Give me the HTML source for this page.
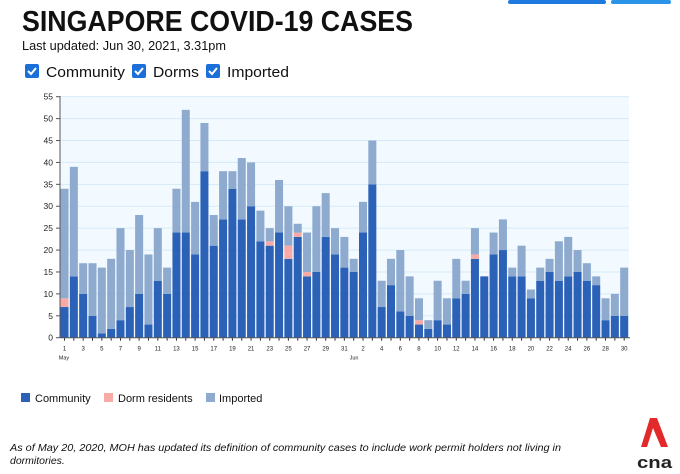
<!DOCTYPE html>
<html><head><meta charset="utf-8"><style>
html,body{margin:0;padding:0;background:#fff;}
svg{display:block;font-family:"Liberation Sans",sans-serif;}
</style></head><body>
<svg id="s" width="680" height="474" viewBox="0 0 680 474" xmlns="http://www.w3.org/2000/svg">
<rect x="508" y="0" width="98" height="4" rx="2" fill="#1f7ae0"/>
<rect x="611" y="0" width="60" height="4" rx="2" fill="#2b93e8"/>
<text x="22" y="31" font-size="29" font-weight="bold" textLength="391" lengthAdjust="spacingAndGlyphs" fill="#111">SINGAPORE COVID-19 CASES</text>
<text x="22" y="50" font-size="12.5" textLength="204" lengthAdjust="spacingAndGlyphs" fill="#111">Last updated: Jun 30, 2021, 3.31pm</text>
<g font-size="15" fill="#111">
<rect x="25" y="64" width="14" height="14" rx="2" fill="#1a6fd8"/><path d="M28 71 l3 3 l5 -6" stroke="#fff" stroke-width="2" fill="none"/>
<text x="46" y="77" textLength="79" lengthAdjust="spacingAndGlyphs">Community</text>
<rect x="132" y="64" width="14" height="14" rx="2" fill="#1a6fd8"/><path d="M135 71 l3 3 l5 -6" stroke="#fff" stroke-width="2" fill="none"/>
<text x="153" y="77" textLength="46" lengthAdjust="spacingAndGlyphs">Dorms</text>
<rect x="206" y="64" width="14" height="14" rx="2" fill="#1a6fd8"/><path d="M209 71 l3 3 l5 -6" stroke="#fff" stroke-width="2" fill="none"/>
<text x="227" y="77" textLength="62" lengthAdjust="spacingAndGlyphs">Imported</text>
</g>
<rect x="60" y="96" width="569" height="242" fill="#f3faff"/>
<g id="grid"></g><g id="bars"></g><g id="axis"></g>
<g font-size="11" fill="#111">
<rect x="21" y="393" width="9" height="9" fill="#2b62b8"/><text x="35" y="402">Community</text>
<rect x="104" y="393" width="9" height="9" fill="#f7aaa6"/><text x="118" y="402">Dorm residents</text>
<rect x="206" y="393" width="9" height="9" fill="#8eabcf"/><text x="219" y="402">Imported</text>
</g>
<g font-size="10.5" font-style="italic" fill="#111">
<text x="10" y="451" textLength="551" lengthAdjust="spacingAndGlyphs">As of May 20, 2020, MOH has updated its definition of community cases to include work permit holders not living in</text>
<text x="10" y="464">dormitories.</text>
</g>
<path d="M650 418 L641 447 L647 447 L653 428 L661 447 L668 447 L657 418 Z" fill="#e22a2a"/>
<text x="637" y="468" font-size="17" font-weight="bold" textLength="35" lengthAdjust="spacingAndGlyphs" fill="#222">cna</text>
</svg>
<script>
var d=[[7,2,34],[14,0,39],[10,0,17],[5,0,17],[1,0,16],[2,0,18],[4,0,25],[7,0,20],[10,0,28],[3,0,19],[13,0,25],[10,0,16],[24,0,34],[24,0,52],[19,0,31],[38,0,49],[21,0,28],[27,0,38],[34,0,38],[27,0,41],[30,0,40],[22,0,29],[21,1,25],[24,0,36],[18,3,30],[23,1,26],[14,1,24],[15,0,30],[23,0,33],[19,0,25],[16,0,23],
[15,0,18],[24,0,31],[35,0,45],[7,0,13],[12,0,18],[6,0,20],[5,0,14],[3,1,9],[2,0,4],[4,0,13],[3,0,9],[9,0,18],[10,0,13],[18,1,25],[14,0,14],[19,0,24],[20,0,27],[14,0,16],[14,0,21],[9,0,11],[13,0,16],[15,0,18],[13,0,22],[14,0,23],[15,0,20],[13,0,17],[12,0,14],[4,0,9],[5,0,10],[5,0,16]];
var NS="http://www.w3.org/2000/svg",y0=337.7,k=241/55,x0=60,w=569/61;
function el(p,t,a,txt){var e=document.createElementNS(NS,t);for(var i in a)e.setAttribute(i,a[i]);if(txt!=null)e.textContent=txt;document.getElementById(p).appendChild(e);}
for(var v=5;v<=55;v+=5)el('grid','line',{x1:60,x2:629,y1:y0-v*k,y2:y0-v*k,stroke:'#d3e9f7','stroke-width':1});
d.forEach(function(r,i){var x=x0+i*w+0.5,bw=w-1.3;
 function seg(a,b,c){if(b>a)el('bars','rect',{x:x,y:y0-b*k,width:bw,height:(b-a)*k,fill:c});}
 seg(0,r[0],'#2b62b8');seg(r[0],r[0]+r[1],'#f7aaa6');seg(r[0]+r[1],r[2],'#8eabcf');
 var lbl=i<31?(i%2==0?String(i+1):null):((i-30)%2==0?String(i-30):null);
 el('axis','line',{x1:x+bw/2,x2:x+bw/2,y1:y0,y2:y0+3,stroke:'#333'});
 if(lbl)el('axis','text',{x:x+bw/2,y:y0+13,'font-size':6,'text-anchor':'middle',fill:'#222'},lbl);
});
el('axis','text',{x:64,y:y0+22,'font-size':5.5,'text-anchor':'middle',fill:'#222'},'May');
el('axis','text',{x:354,y:y0+22,'font-size':5.5,'text-anchor':'middle',fill:'#222'},'Jun');
el('axis','line',{x1:60,x2:630,y1:y0,y2:y0,stroke:'#555','stroke-width':1});
el('axis','line',{x1:60,x2:60,y1:96,y2:y0,stroke:'#555','stroke-width':1});
for(var v=0;v<=55;v+=5){el('axis','line',{x1:56,x2:60,y1:y0-v*k,y2:y0-v*k,stroke:'#555'});
 el('axis','text',{x:53,y:y0-v*k+3,'font-size':8.5,'text-anchor':'end',fill:'#222'},String(v));}
</script>
</body></html>
